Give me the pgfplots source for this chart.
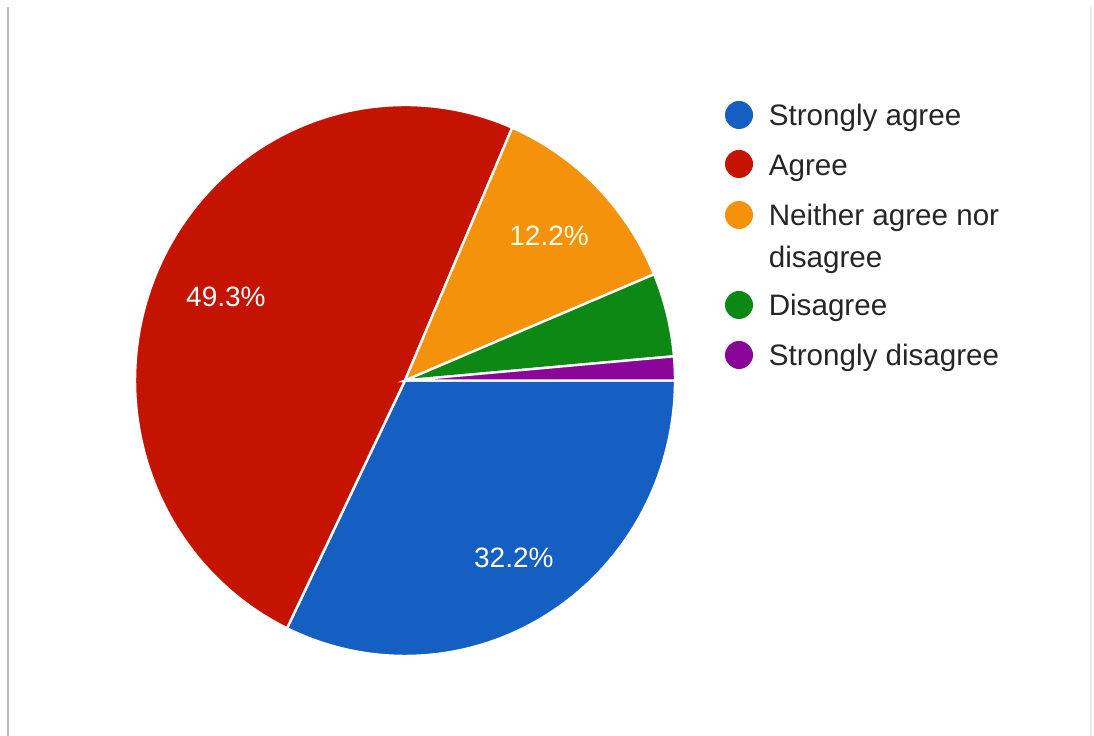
\documentclass[border=0pt]{standalone}
\usepackage{pgfplots}
\pgfplotsset{compat=1.18}
\usepackage{fontspec}
\setmainfont{Liberation Sans}
\definecolor{pieblue}{RGB}{21,94,194}
\definecolor{piered}{RGB}{196,20,0}
\definecolor{pieorange}{RGB}{245,146,12}
\definecolor{piegreen}{RGB}{14,136,20}
\definecolor{piepurple}{RGB}{138,6,152}
% shares (percent)
\def\vA{32.2}% Strongly agree
\def\vB{49.3}% Agree
\def\vC{12.2}% Neither agree nor disagree
\def\vD{4.9}%  Disagree
\def\vE{1.4}%  Strongly disagree
\begin{document}
\begin{tikzpicture}
\pgfmathsetmacro\aA{-3.6*\vA}
\pgfmathsetmacro\aB{\aA-3.6*\vB}
\pgfmathsetmacro\aC{\aB-3.6*\vC}
\pgfmathsetmacro\aD{\aC-3.6*\vD}
\pgfmathsetmacro\aE{\aD-3.6*\vE}
\pgfmathsetmacro\mA{\aA/2}
\pgfmathsetmacro\mB{(\aA+\aB)/2}
\pgfmathsetmacro\mC{(\aB+\aC)/2}
\path[use as bounding box] (0,0) rectangle (273.5pt,184pt);
\fill[white] (0,0) rectangle (273.5pt,184pt);
\begin{scope}[x=0.25pt,y=0.25pt]
\draw[gray!55, line width=0.6pt] (8,0) -- (8,729);
\draw[gray!15, line width=0.6pt] (1091,0) -- (1091,729);
\coordinate (C) at (405,355.5);
\foreach \yy/\cc in {115/pieblue,164/piered,215/pieorange,305/piegreen,355/piepurple}
  \fill[\cc] (739,736-\yy) circle[radius=3.5pt];
\tikzset{leg/.style={anchor=base west, inner sep=0pt, text=black!85, font=\fontsize{7.4}{9}\selectfont}}
\node[leg] at (768,736-126) {Strongly agree};
\node[leg] at (768,736-176) {Agree};
\node[leg] at (768,736-226) {Neither agree nor};
\node[leg] at (768,736-268) {disagree};
\node[leg] at (768,736-316) {Disagree};
\node[leg] at (768,736-366) {Strongly disagree};
\end{scope}
\begin{axis}[at={(C)}, anchor=center, hide axis, scale only axis,
  width=135pt, height=137.75pt, xmin=-1, xmax=1, ymin=-1, ymax=1, clip=false]
\pgfplotsset{every axis plot/.append style={draw=white, line width=0.6pt, samples=120, variable=\t}}
\addplot[fill=pieblue, domain=\aA:0] ({cos(t)},{sin(t)}) -- (axis cs:0,0) -- cycle;
\addplot[fill=piered, domain=\aB:\aA] ({cos(t)},{sin(t)}) -- (axis cs:0,0) -- cycle;
\addplot[fill=pieorange, domain=\aC:\aB] ({cos(t)},{sin(t)}) -- (axis cs:0,0) -- cycle;
\addplot[fill=piegreen, domain=\aD:\aC] ({cos(t)},{sin(t)}) -- (axis cs:0,0) -- cycle;
\addplot[fill=piepurple, domain=\aE:\aD] ({cos(t)},{sin(t)}) -- (axis cs:0,0) -- cycle;
\tikzset{lab/.style={text=white, font=\fontsize{7}{8}\selectfont, inner sep=0pt}}
\node[lab] at (axis cs:{0.76*cos(\mA)},{0.76*sin(\mA)}) {32.2\%};
\node[lab] at (axis cs:{0.73*cos(\mB)},{0.73*sin(\mB)}) {49.3\%};
\node[lab, text=white!90!yellow] at (axis cs:{0.75*cos(\mC)},{0.75*sin(\mC)}) {12.2\%};
\end{axis}
\end{tikzpicture}
\end{document}
